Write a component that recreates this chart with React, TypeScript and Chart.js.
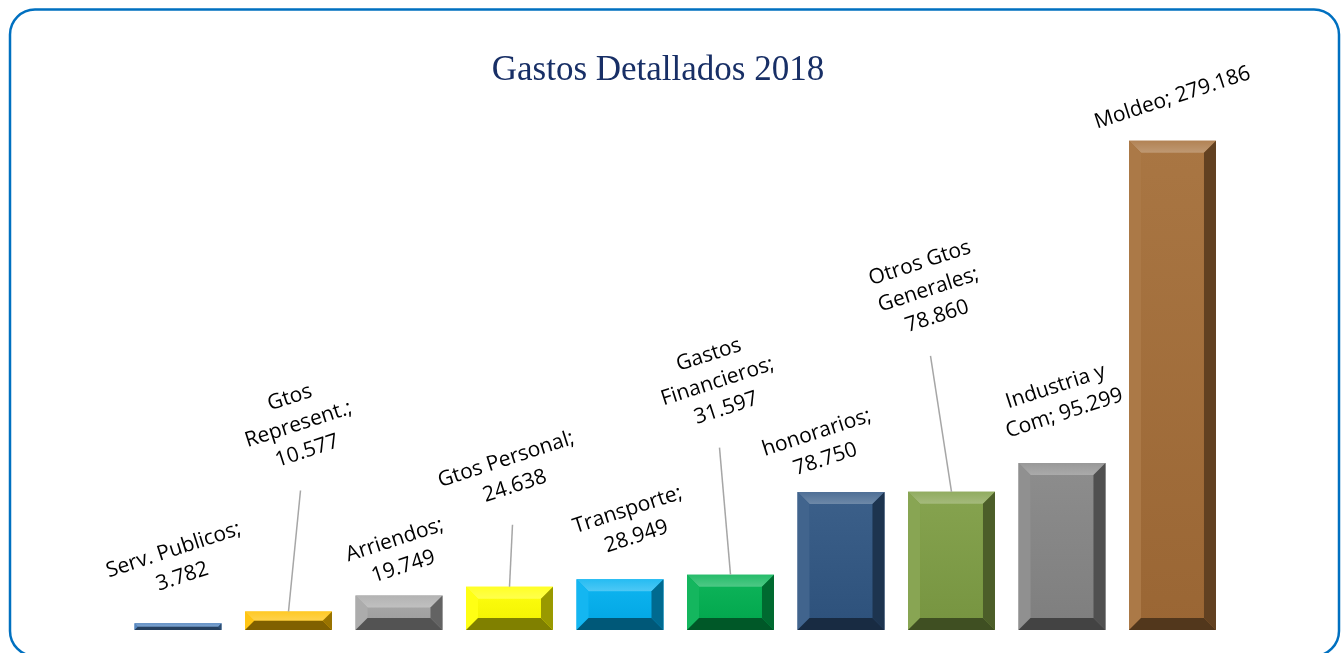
import React, { useEffect, useRef } from "react";
import { Chart, registerables } from "chart.js";

Chart.register(...registerables);

// ---- data ----
const categoryLines: string[][] = [
  ["Serv. Publicos"],
  ["Gtos", "Represent."],
  ["Arriendos"],
  ["Gtos Personal"],
  ["Transporte"],
  ["Gastos", "Financieros"],
  ["honorarios"],
  ["Otros Gtos", "Generales"],
  ["Industria y", "Com"],
  ["Moldeo"],
];
const categories: string[] = categoryLines.map((l) => l.join(" "));
const values: number[] = [3782, 10577, 19749, 24638, 28949, 31597, 78750, 78860, 95299, 279186];
const valueOnSameLine: boolean[] = [false, false, false, false, false, false, false, false, true, true];
const titleText = "Gastos Detallados 2018";

// ---- styles / layout ----
const barColors: string[] = [
  "#4A7EBB", "#FFC000", "#A5A5A5", "#FFFF00", "#00B0F0",
  "#00B050", "#305683", "#7E9D44", "#868686", "#A46D37",
];
// label block centre offset from the bar top centre
const labelDx: number[] = [0, 10, 0, 1, 12, -13, -20, -23, -2, 0];
const labelDy: number[] = [-60, -187, -42, -114, -56, -193, -46, -202, -63, -43];
const hasLeader: boolean[] = [false, true, false, true, false, true, false, true, false, false];

const fmt = (v: number) => String(v).replace(/\B(?=(\d{3})+(?!\d))/g, ".");

function mix(hex: string, target: number, amt: number): string {
  const n = parseInt(hex.slice(1), 16);
  const r = (n >> 16) & 255, g = (n >> 8) & 255, b = n & 255;
  const m = (c: number) => Math.round(c + (target - c) * amt);
  return `rgb(${m(r)},${m(g)},${m(b)})`;
}

const framePlugin = {
  id: "frame",
  beforeDraw(chart: any) {
    const ctx = chart.ctx;
    ctx.save();
    ctx.fillStyle = "#ffffff";
    ctx.fillRect(0, 0, chart.width, chart.height);
    ctx.strokeStyle = "#0070C0";
    ctx.lineWidth = 2.5;
    ctx.beginPath();
    ctx.roundRect(10, 9.5, 1329, 646.5, 25);
    ctx.stroke();
    ctx.fillStyle = "#182F66";
    ctx.font = "35px 'Liberation Serif', serif";
    ctx.textAlign = "center";
    ctx.textBaseline = "alphabetic";
    ctx.fillText(titleText, 658, 80);
    ctx.restore();
  },
  afterDatasetsDraw(chart: any) {
    const ctx = chart.ctx;
    const meta = chart.getDatasetMeta(0);
    ctx.save();
    meta.data.forEach((bar: any, i: number) => {
      const L = bar.x - bar.width / 2;
      const R = bar.x + bar.width / 2;
      const T = bar.y;
      const B = bar.base;
      const h = B - T;
      const b = Math.min(12, h / 2, bar.width / 2);
      const c = barColors[i];
      const poly = (pts: number[][], fill: any) => {
        ctx.beginPath();
        ctx.moveTo(pts[0][0], pts[0][1]);
        for (let k = 1; k < pts.length; k++) ctx.lineTo(pts[k][0], pts[k][1]);
        ctx.closePath();
        ctx.fillStyle = fill;
        ctx.fill();
      };
      const g = ctx.createLinearGradient(0, T, 0, B);
      g.addColorStop(0, mix(c, 255, 0.06));
      g.addColorStop(1, mix(c, 0, 0.06));
      poly([[L + b, T + b], [R - b, T + b], [R - b, B - b], [L + b, B - b]], g);
      const gt = ctx.createLinearGradient(0, T, 0, T + b);
      gt.addColorStop(0, mix(c, 255, 0.15));
      gt.addColorStop(1, mix(c, 255, 0.3));
      poly([[L, T], [R, T], [R - b, T + b], [L + b, T + b]], gt);
      poly([[L, T], [L + b, T + b], [L + b, B - b], [L, B]], mix(c, 255, 0.08));
      poly([[R, T], [R, B], [R - b, B - b], [R - b, T + b]], mix(c, 0, 0.4));
      poly([[L, B], [R, B], [R - b, B - b], [L + b, B - b]], mix(c, 0, 0.5));
    });

    const lineH = 28;
    const angle = (-18 * Math.PI) / 180;
    ctx.font = "21px 'Open Sans', sans-serif";
    ctx.textAlign = "center";
    ctx.textBaseline = "middle";
    meta.data.forEach((bar: any, i: number) => {
      const lines = categoryLines[i].slice();
      const v = fmt(values[i]);
      if (valueOnSameLine[i]) lines[lines.length - 1] += "; " + v;
      else {
        lines[lines.length - 1] += ";";
        lines.push(v);
      }
      const cx = bar.x + labelDx[i];
      const cy = bar.y + labelDy[i];
      if (hasLeader[i]) {
        ctx.strokeStyle = "#A6A6A6";
        ctx.lineWidth = 1.5;
        ctx.beginPath();
        ctx.moveTo(cx + 2, cy + (lines.length * lineH) / 2 + 24);
        ctx.lineTo(bar.x, bar.y);
        ctx.stroke();
      }
      ctx.save();
      ctx.translate(cx, cy);
      ctx.rotate(angle);
      ctx.fillStyle = "#000000";
      lines.forEach((ln, k) => {
        ctx.fillText(ln, 0, (k - (lines.length - 1) / 2) * lineH);
      });
      ctx.restore();
    });
    ctx.restore();
  },
};

export default function App() {
  const ref = useRef<HTMLCanvasElement | null>(null);
  useEffect(() => {
    if (!ref.current) return;
    const chart = new Chart(ref.current, {
      type: "bar",
      data: {
        labels: categories,
        datasets: [
          {
            data: values,
            backgroundColor: barColors,
            borderWidth: 0,
            categoryPercentage: 1,
            barPercentage: 0.787,
          },
        ],
      },
      options: {
        responsive: false,
        animation: false,
        devicePixelRatio: 1,
        layout: { padding: { left: 122.75, right: 115.25, top: 104.4, bottom: 23 } },
        scales: {
          x: { display: false },
          y: { display: false, min: 0, max: 300000 },
        },
        plugins: {
          legend: { display: false },
          tooltip: { enabled: false },
          title: { display: false },
        },
      },
      plugins: [framePlugin],
    } as any);
    return () => chart.destroy();
  }, []);
  return (
    <div style={{ position: "fixed", left: 0, top: 0, width: 1343, height: 653, overflow: "hidden" }}>
      <canvas ref={ref} width={1343} height={653} style={{ display: "block" }} />
    </div>
  );
}
